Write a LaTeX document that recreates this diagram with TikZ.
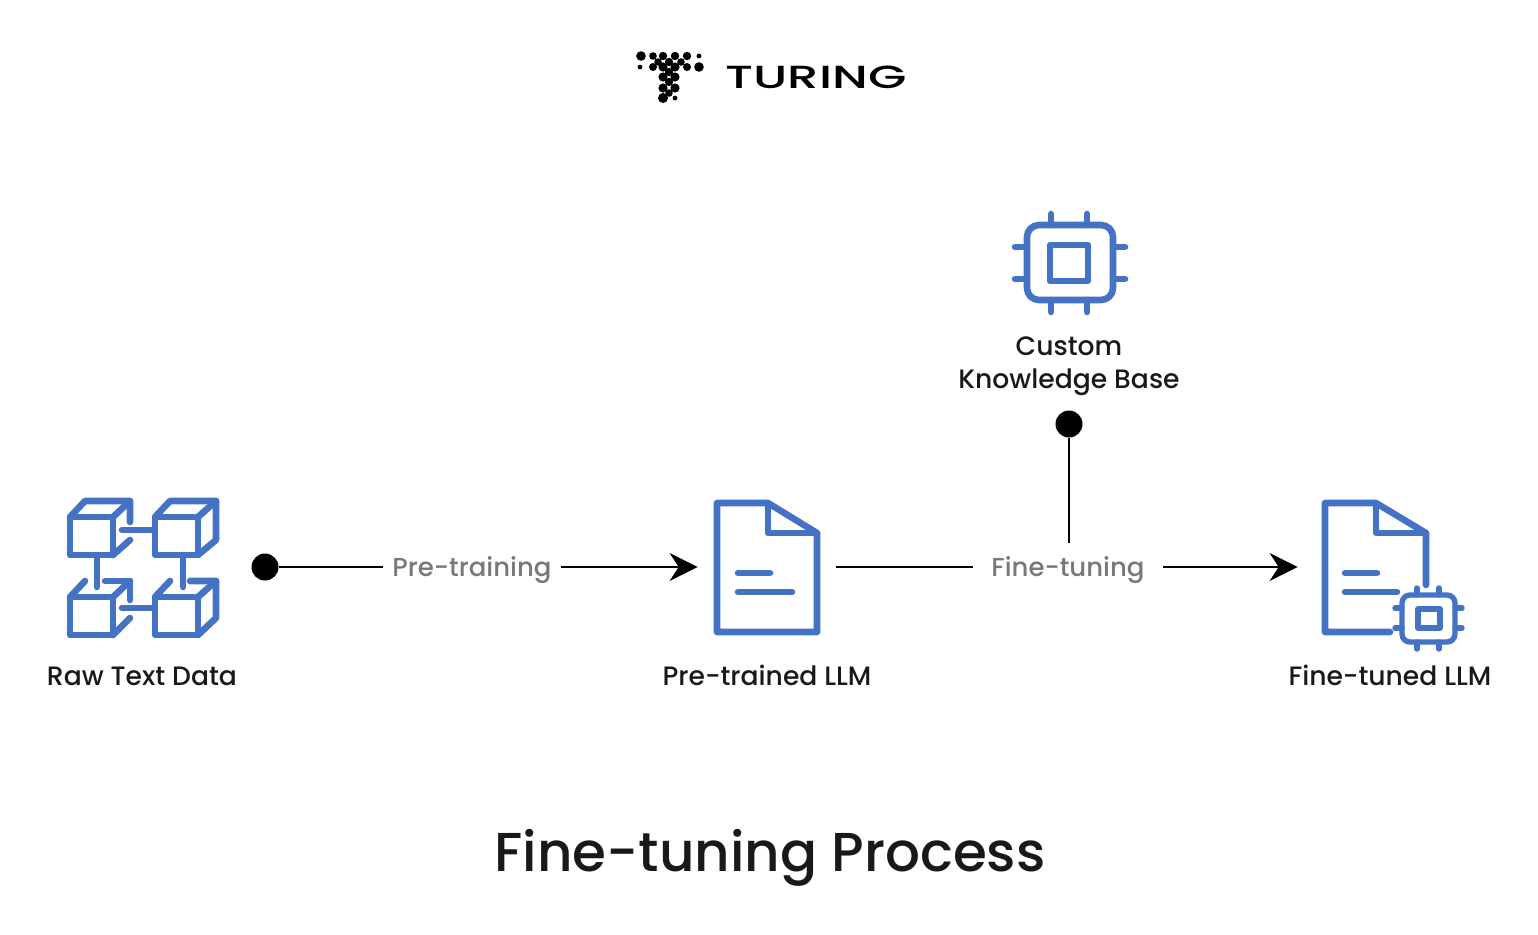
\documentclass[tikz,border=0pt]{standalone}
\usepackage{fontspec}
\setmainfont{Poppins Medium}
\usetikzlibrary{arrows.meta}
\definecolor{iconblue}{RGB}{68,114,196}
\definecolor{labelgray}{RGB}{120,120,120}

\begin{document}
\begin{tikzpicture}[x=0.5pt, y=-0.5pt,
	icon/.style={draw=iconblue, line width=3.3pt, line join=round, line cap=round},
	thinicon/.style={draw=iconblue, line width=2.7pt, line join=round, line cap=round},
	caption/.style={font=\fontsize{13.3}{16.5}\selectfont, text=black!90, align=center, inner sep=0pt},
	step label/.style={font=\fontsize{13}{15}\selectfont, text=labelgray, inner sep=0pt, minimum height=24pt, text height=9.5pt, text depth=0.5pt},
	dot/.style={circle, fill=black, inner sep=0pt, minimum size=13.5pt},
	slot/.style={inner sep=0pt, minimum height=10pt},
	link/.style={draw=black, line width=1.25pt},
	arrow/.style={link, -{Stealth[length=14pt, width=14pt]}},
	logodot/.style={fill=black}]
	\useasboundingbox (0,0) rectangle (1538,934);

	% logo
	\foreach \x/\y/\r in {641/56/2.4, 653/56/1.9, 663/56/2.1, 675/56/2.1, 687/56/2.1, 699/56/1.2,
		658/62/1.9, 669/62/2.1, 681/62/1.9,
		640/67/1.2, 653/67/2.0, 663/67/2.3, 675/67/2.3, 687/67/2.0, 699/67/2.4,
		669/72/2.1, 663/77/2.3, 675/77/2.3, 669/82/2.1, 663/88/2.3, 675/88/2.3, 669/93/1.9,
		663/98/2.5, 675/98/1.2}
		\fill[logodot] (\x,\y) circle (\r pt);
	\node [inner sep=0pt, font=\fontsize{16}{16}\selectfont, xscale=1.55] (logotext) at (816,77) {TURING};

	% icon slots
	\node [slot, minimum width=69pt] (llm_a) at (767,567) {};
	\node [slot, minimum width=77pt] (llm_b) at (1375,567) {};

	% nodes on the line
	\node [dot] (start_a) at (265,567) {};
	\node [step label, minimum width=89pt] (pretraining) at (472,567) {Pre-training};
	\node [step label, minimum width=94.5pt] (finetuning) at (1068,567) {Fine-tuning};
	\node [dot] (start_b) at (1069,424) {};

	\draw [link] (start_a) -- (pretraining);
	\draw [arrow] (pretraining) -- (llm_a);
	\draw [link] (llm_a) -- (finetuning);
	\draw [arrow] (finetuning) -- (llm_b);
	\draw [link] (start_b) -- (start_b |- finetuning.north);

	% captions
	\node [caption] (raw) at (142,676) {Raw Text Data};
	\node [caption] (trained) at (767,675) {Pre-trained LLM};
	\node [caption] (tuned) at (1390,675) {Fine-tuned LLM};
	\node [caption] (base) at (1069,366) {Custom\\Knowledge Base};
	\node [inner sep=0pt, font=\fontsize{27.4}{30}\selectfont, text=black!90] (title) at (770,858) {Fine-tuning Process};

	% cubes
	\draw [icon] (70,517) rectangle (113,555);
	\draw [icon] (70,517) -- (85,501) -- (130,501) -- (130,522);
	\draw [icon] (113,517) -- (130,501);
	\draw [icon] (113,555) -- (130,540);
	\draw [icon] (155,517) rectangle (198,555);
	\draw [icon] (155,517) -- (170,501) -- (216,501) -- (216,540) -- (198,555);
	\draw [icon] (198,517) -- (216,501);
	\draw [icon] (70,597) rectangle (113,635);
	\draw [icon] (70,597) -- (85,581);
	\draw [icon] (105,581) -- (130,581) -- (130,600);
	\draw [icon] (113,597) -- (130,581);
	\draw [icon] (113,635) -- (130,618);
	\draw [icon] (155,597) rectangle (198,635);
	\draw [icon] (155,597) -- (170,581);
	\draw [icon] (190,581) -- (216,581) -- (216,618) -- (198,635);
	\draw [icon] (198,597) -- (216,581);
	\draw [icon] (122,530) -- (155,530);
	\draw [icon] (122,608) -- (155,608);
	\draw [icon] (97,555) -- (97,587);
	\draw [icon] (183,555) -- (183,587);

	% first document
	\draw [icon] (768,503) -- (717,503) -- (717,632) -- (817,632) -- (817,533) -- cycle;
	\draw [icon] (768,503) -- (768,533) -- (817,533);
	\draw [icon] (738,573) -- (770,573);
	\draw [icon] (738,592) -- (792,592);

	% second document
	\draw [icon] (1390,632) -- (1325,632) -- (1325,503) -- (1376,503) -- (1426,533) -- (1426,585);
	\draw [icon] (1376,503) -- (1376,533) -- (1426,533);
	\draw [icon] (1345,573) -- (1377,573);
	\draw [icon] (1345,592) -- (1397,592);

	% big chip
	\draw [icon, rounded corners=6pt] (1027,225) rectangle (1113,300);
	\draw [icon] (1050,245) rectangle (1088,281);
	\foreach \x in {1051,1087} {
		\draw [icon] (\x,214) -- (\x,225);
		\draw [icon] (\x,300) -- (\x,312);
	}
	\foreach \y in {247,279} {
		\draw [icon] (1015,\y) -- (1027,\y);
		\draw [icon] (1113,\y) -- (1125,\y);
	}

	% small chip
	\draw [thinicon, rounded corners=4pt] (1402,595) rectangle (1455,642);
	\draw [thinicon] (1418,609) rectangle (1440,628);
	\foreach \x in {1417,1439} {
		\draw [thinicon] (\x,588) -- (\x,595);
		\draw [thinicon] (\x,642) -- (\x,649);
	}
	\foreach \y in {608,628} {
		\draw [thinicon] (1395,\y) -- (1402,\y);
		\draw [thinicon] (1455,\y) -- (1462,\y);
	}
\end{tikzpicture}
\end{document}
